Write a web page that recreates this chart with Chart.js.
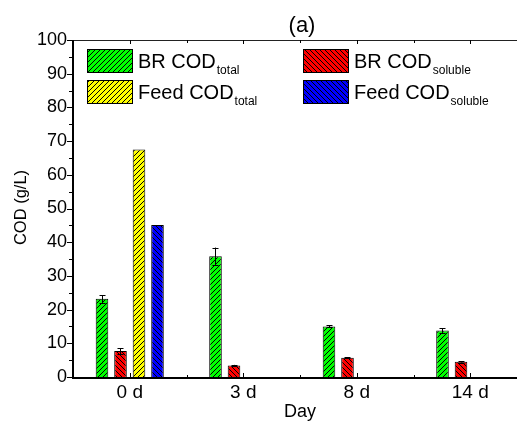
<!DOCTYPE html>
<html>
<head>
<meta charset="utf-8">
<script src="https://cdn.jsdelivr.net/npm/chart.js@4/dist/chart.umd.min.js"></script>
<style>
html,body{margin:0;padding:0;background:#fff;overflow:hidden;width:517px;height:425px;}
canvas{display:block;}
</style>
</head>
<body>
<canvas id="c" width="540" height="425"></canvas>
<script>
const days = ['0 d', '3 d', '8 d', '14 d'];
const brTotal = [23.2, 35.8, 15.0, 13.8];
const brTotalErr = [1.1, 2.6, 0.3, 0.6];
const brSoluble = [7.7, 3.4, 5.7, 4.5];
const brSolubleErr = [0.9, 0.2, 0.2, 0.2];
const feedTotal = [67.5, null, null, null];
const feedSoluble = [45.1, null, null, null];
const yTicks = [0, 10, 20, 30, 40, 50, 60, 70, 80, 90, 100];
const seriesNames = [['BR COD', 'total'], ['BR COD', 'soluble'], ['Feed COD', 'total'], ['Feed COD', 'soluble']];
const titleText = '(a)';
const xTitle = 'Day';
const yTitle = 'COD (g/L)';

const FONT = "'Liberation Sans', Arial, Helvetica, sans-serif";
const canvas = document.getElementById('c');
const ctx = canvas.getContext('2d');

function hatch(color, dir) {
  const s = 5;
  const c = document.createElement('canvas');
  c.width = s; c.height = s;
  const g = c.getContext('2d');
  g.fillStyle = color; g.fillRect(0, 0, s, s);
  g.strokeStyle = '#000'; g.lineWidth = 1;
  g.beginPath();
  if (dir === '/') {
    g.moveTo(0, s); g.lineTo(s, 0);
    g.moveTo(-1, 1); g.lineTo(1, -1);
    g.moveTo(s - 1, s + 1); g.lineTo(s + 1, s - 1);
  } else {
    g.moveTo(0, 0); g.lineTo(s, s);
    g.moveTo(s - 1, -1); g.lineTo(s + 1, 1);
    g.moveTo(-1, s - 1); g.lineTo(1, s + 1);
  }
  g.stroke();
  return ctx.createPattern(c, 'repeat');
}

const fills = [hatch('#00ff00', '/'), hatch('#ff0000', '\\'), hatch('#ffff00', '/'), hatch('#0000ff', '\\')];
const values = [brTotal, brSoluble, feedTotal, feedSoluble];
const errs = [brTotalErr, brSolubleErr, null, null];

const decor = {
  id: 'decor',
  afterDatasetsDraw(chart) {
    const c = chart.ctx;
    const ys = chart.scales.y;
    // error bars
    c.save();
    c.strokeStyle = '#000'; c.lineWidth = 1;
    errs.forEach((e, i) => {
      if (!e) return;
      const meta = chart.getDatasetMeta(i);
      meta.data.forEach((bar, j) => {
        const v = values[i][j];
        if (v == null) return;
        const x = Math.round(bar.x) + 0.5;
        const yt = ys.getPixelForValue(v + e[j]);
        const yb = ys.getPixelForValue(v - e[j]);
        c.beginPath();
        c.moveTo(x, yt); c.lineTo(x, yb);
        c.moveTo(x - 3, Math.round(yt) + 0.5); c.lineTo(x + 3, Math.round(yt) + 0.5);
        c.moveTo(x - 3, Math.round(yb) + 0.5); c.lineTo(x + 3, Math.round(yb) + 0.5);
        c.stroke();
      });
    });
    c.restore();
  },
  afterDraw(chart) {
    const c = chart.ctx;
    const a = chart.chartArea;
    const xs = chart.scales.x, ys = chart.scales.y;
    c.save();
    // top axis (thin)
    c.strokeStyle = '#222'; c.lineWidth = 1;
    c.beginPath(); c.moveTo(a.left, a.top + 0.5); c.lineTo(a.right, a.top + 0.5); c.stroke();
    // left & bottom axis (thick)
    c.strokeStyle = '#000'; c.lineWidth = 2;
    c.beginPath();
    c.moveTo(a.left, a.top); c.lineTo(a.left, a.bottom + 1);
    c.lineTo(a.right, a.bottom + 1);
    c.stroke();
    // y ticks (outward)
    c.lineWidth = 1;
    c.beginPath();
    for (let v = 0; v <= 100; v += 5) {
      const y = Math.round(ys.getPixelForValue(v)) + 0.5;
      const len = (v % 10 === 0) ? 5 : 3;
      c.moveTo(a.left - 1 - len, y); c.lineTo(a.left - 1, y);
    }
    // x ticks: major at categories, minor between (inward on top and bottom)
    for (let i = 0; i < days.length; i++) {
      const x = Math.round(xs.getPixelForValue(i)) + 0.5;
      c.moveTo(x, a.bottom); c.lineTo(x, a.bottom - 4);
      c.moveTo(x, a.top); c.lineTo(x, a.top + 4);
      if (i < days.length - 1) {
        const xm = Math.round(xs.getPixelForValue(i + 0.5)) + 0.5;
        c.moveTo(xm, a.bottom); c.lineTo(xm, a.bottom - 2);
        c.moveTo(xm, a.top); c.lineTo(xm, a.top + 3);
      }
    }
    c.stroke();

    // titles
    c.fillStyle = '#000';
    c.font = '22px ' + FONT;
    c.textAlign = 'center'; c.textBaseline = 'alphabetic';
    c.fillText(titleText, (a.left + a.right) / 2 + 2, 32);
    c.font = '18px ' + FONT;
    c.fillText(xTitle, (a.left + a.right) / 2, 417);
    c.save();
    c.translate(26, (a.top + a.bottom) / 2 - 1);
    c.rotate(-Math.PI / 2);
    c.font = '16.5px ' + FONT;
    c.fillText(yTitle, 0, 0);
    c.restore();

    // legend
    const cols = [87, 303];
    const rows = [49, 80];
    for (let i = 0; i < 4; i++) {
      const bx = cols[i % 2], by = rows[Math.floor(i / 2)];
      c.fillStyle = fills[i];
      c.fillRect(bx, by, 45, 23);
      c.strokeStyle = '#000'; c.lineWidth = 1;
      c.strokeRect(bx + 0.5, by + 0.5, 45, 23);
      c.fillStyle = '#000';
      c.textAlign = 'left'; c.textBaseline = 'alphabetic';
      c.font = '20px ' + FONT;
      const tx = bx + 51;
      const base = by + 19;
      c.fillText(seriesNames[i][0], tx, base);
      const w = c.measureText(seriesNames[i][0]).width;
      c.font = '12px ' + FONT;
      c.fillText(seriesNames[i][1], tx + w + 1, base + 6);
    }
    c.restore();
  }
};

new Chart(canvas, {
  type: 'bar',
  data: {
    labels: days,
    datasets: values.map((d, i) => ({
      label: seriesNames[i].join(''),
      data: d,
      backgroundColor: fills[i],
      borderColor: '#000',
      borderWidth: 1,
      categoryPercentage: 0.652,
      barPercentage: 0.68
    }))
  },
  options: {
    responsive: false,
    animation: false,
    layout: { padding: { top: 40, right: 13, left: 0, bottom: 0 } },
    plugins: { legend: { display: false }, tooltip: { enabled: false }, title: { display: false } },
    scales: {
      x: {
        grid: { display: false, drawTicks: false },
        border: { display: false },
        ticks: { color: '#000', font: { family: FONT, size: 19 }, padding: 4, maxRotation: 0 },
        afterFit(s) { s.height = 48; }
      },
      y: {
        min: 0, max: 100,
        afterBuildTicks(s) { s.ticks = yTicks.map(v => ({ value: v })); },
        grid: { display: false, drawTicks: false },
        border: { display: false },
        ticks: { color: '#000', font: { family: FONT, size: 18 }, padding: 6 },
        afterFit(s) { s.width = 73; }
      }
    }
  },
  plugins: [decor]
});
</script>
</body>
</html>
